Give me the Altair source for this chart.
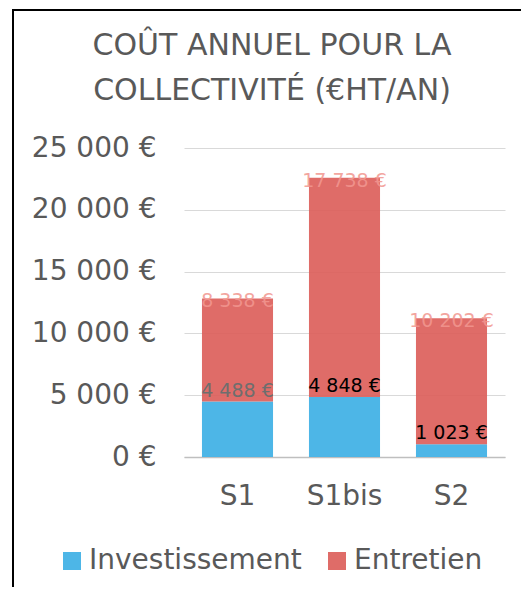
import altair as alt
import pandas as pd

scenarios = ["S1", "S1bis", "S2"]
investissement = [4488, 4848, 1023]
entretien = [8338, 17738, 10202]
series = ["Investissement", "Entretien"]
colors = ["#3AAEE4", "#DC5C58"]
title_lines = ["COÛT ANNUEL POUR LA", "COLLECTIVITÉ (€HT/AN)"]

rows = []
for s, inv, ent in zip(scenarios, investissement, entretien):
    for k, (name, v) in enumerate(zip(series, [inv, ent])):
        rows.append({"scenario": s, "serie": name, "value": v, "ord": k,
                     "label": f"{v:,}".replace(",", " ") + " €"})
df = pd.DataFrame(rows)

FONT = "DejaVu Sans"
GREY = "#595959"

base = alt.Chart(df)

bars = base.mark_bar(opacity=0.9).encode(
    x=alt.X("scenario:N", sort=scenarios,
            scale=alt.Scale(paddingInner=0.336, paddingOuter=0.168),
            axis=alt.Axis(title=None, labelAngle=0, ticks=False, labelFontSize=28,
                          labelColor=GREY, labelFont=FONT,
                          labelPadding=25, domainColor="#BFBFBF", domainWidth=1.5,
                          grid=False)),
    y=alt.Y("value:Q", stack="zero",
            scale=alt.Scale(domain=[0, 25000], nice=False),
            axis=alt.Axis(title=None, values=[0, 5000, 10000, 15000, 20000, 25000],
                          labelExpr="replace(format(datum.value, ',d'), ',', ' ') + ' €'",
                          ticks=False, domain=False, labelFontSize=28, labelColor=GREY,
                          labelFont=FONT, labelPadding=28,
                          gridColor="#D9D9D9", gridWidth=1)),
    color=alt.Color("serie:N", sort=series,
                    scale=alt.Scale(domain=series, range=colors),
                    legend=alt.Legend(title=None, orient="none", legendX=-126, legendY=399,
                                      direction="horizontal", symbolType="square",
                                      symbolSize=324, symbolStrokeWidth=0,
                                      labelFontSize=28, labelColor=GREY, labelFont=FONT,
                                      labelOffset=3, labelLimit=400,
                                      columnPadding=21, symbolOpacity=0.9)),
    order=alt.Order("ord:Q"),
)

stacked = base.transform_stack(
    stack="value", groupby=["scenario"], as_=["y0", "y1"],
    sort=[alt.SortField("ord")]
)

inv_labels = stacked.transform_filter(alt.datum.serie == "Investissement").mark_text(
    fontSize=19, font=FONT, baseline="middle", dy=-11
).encode(
    x=alt.X("scenario:N", sort=scenarios),
    y=alt.Y("y1:Q"),
    text="label:N",
    color=alt.condition(alt.datum.scenario == "S1", alt.value("#6E6E6E"), alt.value("#000000")),
)

ent_labels = stacked.transform_filter(alt.datum.serie == "Entretien").mark_text(
    fontSize=19, font=FONT, baseline="middle", dy=3,
    color="#F29790", opacity=0.85
).encode(
    x=alt.X("scenario:N", sort=scenarios),
    y=alt.Y("y1:Q"),
    text="label:N",
)

frame = alt.Chart(alt.Data(values=[{"a": 1}]))
left_border = frame.mark_rule(color="#000000", strokeWidth=2).encode(
    x=alt.value(-171), y=alt.value(-139), y2=alt.value(460))
top_border = frame.mark_rule(color="#000000", strokeWidth=2).encode(
    x=alt.value(-171), x2=alt.value(340), y=alt.value(-138))

title1 = frame.mark_text(fontSize=30, font=FONT, color=GREY, baseline="middle",
                         align="center").encode(
    x=alt.value(88), y=alt.value(-102), text=alt.value(title_lines[0]))
title2 = frame.mark_text(fontSize=30, font=FONT, color=GREY, baseline="middle",
                         align="center").encode(
    x=alt.value(88), y=alt.value(-57), text=alt.value(title_lines[1]))

chart = alt.layer(bars, inv_labels, ent_labels, left_border, top_border,
                  title1, title2).properties(
    width=321, height=309,
    autosize=alt.AutoSizeParams(type="none"),
    padding={"left": 176, "top": 140, "right": 16, "bottom": 130},
).configure_view(stroke=None).resolve_scale(color="independent")

chart.save("out.html", embed_options={"renderer": "svg", "actions": False})
